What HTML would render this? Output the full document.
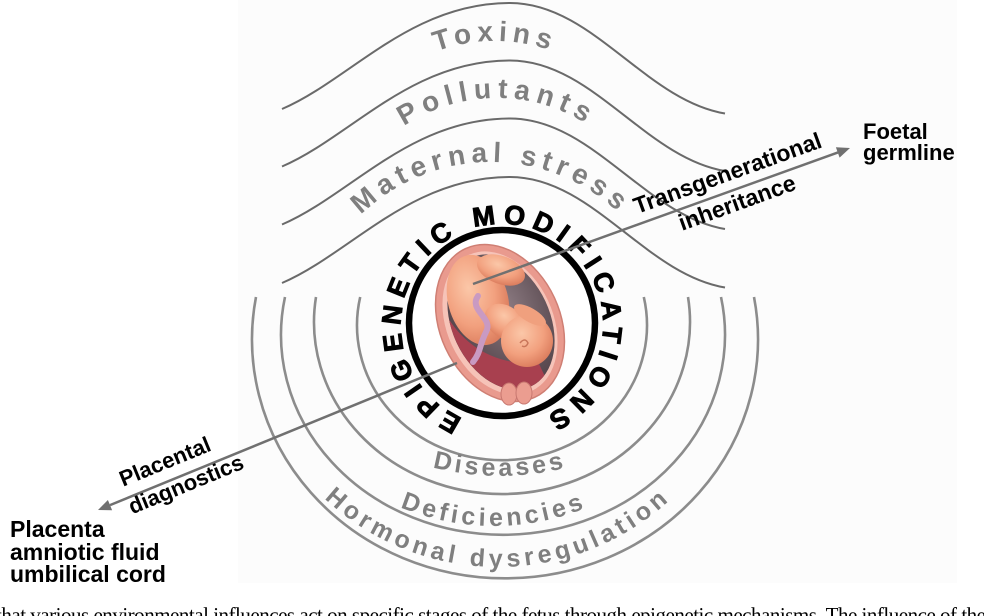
<!DOCTYPE html>
<html><head><meta charset="utf-8">
<style>
html,body{margin:0;padding:0;background:#fff;}
body{width:984px;height:616px;overflow:hidden;position:relative;}
svg{position:absolute;left:0;top:0;}
.g{font-family:"Liberation Sans",Arial,sans-serif;font-weight:bold;fill:#7f7f7f;}
.k{font-family:"Liberation Sans",Arial,sans-serif;font-weight:bold;fill:#000;}
</style></head><body>
<svg width="984" height="616" viewBox="0 0 984 616" xmlns="http://www.w3.org/2000/svg">
<defs>
 <path id="w" d="M282,109 C350,80 410,3 510,3 C592,3 645,100 725,113.5"/>
 <path id="tTox" d="M325,211 A170,170 0 0 1 665,211"/>
 <path id="tPol" d="M330,265 A167,167 0 0 1 664,265"/>
 <path id="tMat" d="M305,348 A186,186 0 0 1 677,348"/>
 <path id="tDis" d="M230,206 A270,270 0 0 0 770,206"/>
 <path id="tDef" d="M250,282 A244,244 0 0 0 738,282"/>
 <path id="tHor" d="M244,313 A254,254 0 0 0 752,313"/>
 <path id="tEpi" d="M502,426 A101,101 0 1 1 502,224 A101,101 0 1 1 502,426"/>
 <radialGradient id="skin" cx="40%" cy="35%" r="70%">
  <stop offset="0" stop-color="#fbc7a8"/>
  <stop offset="0.6" stop-color="#f2a07e"/>
  <stop offset="1" stop-color="#d9795a"/>
 </radialGradient>
 <radialGradient id="cav" cx="60%" cy="40%" r="70%">
  <stop offset="0" stop-color="#8d7c83"/>
  <stop offset="1" stop-color="#4a3a40"/>
 </radialGradient>
</defs>

<!-- faint figure background -->
<rect x="238" y="0" width="719" height="583" fill="#fcfcfc"/>

<!-- wave lines -->
<g fill="none" stroke="#6a6a6a" stroke-width="2">
 <use href="#w"/>
 <use href="#w" transform="translate(0,57.5)"/>
 <use href="#w" transform="translate(0,115.5)"/>
 <use href="#w" transform="translate(0,174)"/>
</g>

<!-- lower arcs -->
<g fill="none" stroke="#8c8c8c" stroke-width="2.6">
 <path d="M360.2,297 A145,135 0 1 0 643.8,297"/>
 <path d="M316,297 A188,172 0 1 0 688,297"/>
 <path d="M285,297 A222,200 0 1 0 721,297"/>
 <path d="M256,297 A253,239 0 1 0 754,297"/>
</g>

<!-- curved gray labels -->
<text class="g" font-size="28" letter-spacing="5.4"><textPath href="#tTox" startOffset="50%" text-anchor="middle">Toxins</textPath></text>
<text class="g" font-size="28" letter-spacing="6.2"><textPath href="#tPol" startOffset="50%" text-anchor="middle">Pollutants</textPath></text>
<text class="g" font-size="28" letter-spacing="5.5"><textPath href="#tMat" startOffset="50%" text-anchor="middle">Maternal stress</textPath></text>
<text class="g" font-size="25" letter-spacing="3.5"><textPath href="#tDis" startOffset="50%" text-anchor="middle">Diseases</textPath></text>
<text class="g" font-size="25" letter-spacing="3.9"><textPath href="#tDef" startOffset="50%" text-anchor="middle">Deficiencies</textPath></text>
<text class="g" font-size="25" letter-spacing="4.3"><textPath href="#tHor" startOffset="50%" text-anchor="middle">Hormonal dysregulation</textPath></text>

<!-- inner white disc + ring -->
<circle cx="502" cy="323" r="92" fill="#fff"/>
<circle cx="502" cy="323" r="93" fill="none" stroke="#000" stroke-width="6.5"/>

<!-- EPIGENETIC MODIFICATIONS -->
<text class="k" font-size="27" letter-spacing="7" stroke="#000" stroke-width="0.9"><textPath href="#tEpi" startOffset="50%" text-anchor="middle">EPIGENETIC MODIFICATIONS</textPath></text>

<!-- uterus / fetus -->
<g>
 <ellipse cx="500" cy="323" rx="60" ry="82" transform="rotate(-25 500 323)" fill="#e99a8e" stroke="#cf7f74" stroke-width="1.5"/>
 <ellipse cx="500" cy="323" rx="53" ry="75" transform="rotate(-25 500 323)" fill="#f6c3b8"/>
 <ellipse cx="501" cy="322" rx="49" ry="71" transform="rotate(-25 501 322)" fill="url(#cav)"/>
 <g transform="translate(501 322) rotate(-25)">
  <path d="M16.8,66.7 A49,71 0 0 1 -46,-24 Q-38,30 16.8,54 Z" fill="#a8404f"/>
 </g>
 <ellipse cx="509" cy="394" rx="8" ry="11" fill="#eb9d90" stroke="#c87870" stroke-width="1"/>
 <ellipse cx="524" cy="393" rx="8" ry="11" fill="#eb9d90" stroke="#c87870" stroke-width="1"/>
 <!-- fetus -->
 <ellipse cx="478" cy="300" rx="30" ry="46" transform="rotate(-15 478 300)" fill="url(#skin)"/>
 <ellipse cx="501" cy="270" rx="25" ry="14" transform="rotate(20 501 270)" fill="url(#skin)"/>
 <ellipse cx="505" cy="322" rx="22" ry="16" transform="rotate(35 505 322)" fill="url(#skin)"/>
 <circle cx="527" cy="341" r="26" fill="url(#skin)"/>
 <ellipse cx="530" cy="315" rx="18" ry="7" transform="rotate(30 530 315)" fill="#f0a07e"/>
 <path d="M520,343 q5,-6 8,0 q-2,5 -6,3" fill="none" stroke="#c9765a" stroke-width="1.5"/>
 <path d="M478,296 C468,310 494,318 486,332 C479,346 481,352 473,362" fill="none" stroke="#c99ac2" stroke-width="6" stroke-linecap="round"/>
</g>

<!-- arrows -->
<g stroke="#707070" stroke-width="2.5" fill="none">
 <line x1="473" y1="284" x2="838" y2="152.4"/>
 <line x1="457" y1="363" x2="110" y2="505.1"/>
</g>
<polygon points="850,148 839.6,157.6 835.9,147.2" fill="#707070"/>
<polygon points="98,510 112.1,510.2 107.9,500" fill="#707070"/>

<!-- arrow labels -->
<g transform="translate(473 284) rotate(-19.85)">
 <text class="k" font-size="23" x="277" y="-10" text-anchor="middle">Transgenerational</text>
 <text class="k" font-size="23" x="276" y="21" text-anchor="middle">inheritance</text>
</g>
<g transform="translate(98 510) rotate(-22.27)">
 <text class="k" font-size="22" x="32" y="-12">Placental</text>
 <text class="k" font-size="22" x="30" y="17">diagnostics</text>
</g>

<!-- end labels -->
<text class="k" font-size="22" x="863" y="139">Foetal</text>
<text class="k" font-size="22" x="863" y="160">germline</text>
<text class="k" font-size="23" x="10" y="537">Placenta</text>
<text class="k" font-size="23" x="10" y="560">amniotic fluid</text>
<text class="k" font-size="23" x="10" y="582">umbilical cord</text>

<!-- clipped caption line -->
<text x="-4" y="622" font-family="Liberation Serif,serif" font-size="21" fill="#000" textLength="990" lengthAdjust="spacing">that various environmental influences act on specific stages of the fetus through epigenetic mechanisms. The influence of the</text>
</svg>
</body></html>
